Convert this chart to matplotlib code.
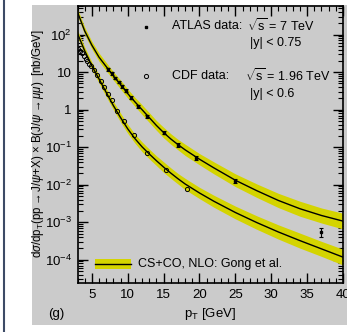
import matplotlib
matplotlib.use("Agg")
import matplotlib.pyplot as plt
from matplotlib.patches import Rectangle
from matplotlib.lines import Line2D
from matplotlib.ticker import LogLocator, MultipleLocator, FixedLocator, FixedFormatter
import numpy as np

plt.rcParams['font.family'] = ['Liberation Sans', 'DejaVu Sans']
plt.rcParams['mathtext.fontset'] = 'custom'
plt.rcParams['mathtext.rm'] = 'Liberation Sans'
plt.rcParams['mathtext.it'] = 'Liberation Sans:italic'

# NLO CS+CO prediction, central values (log10 of nb/GeV) and band half-width
pt_nodes = [3, 4, 5, 6, 7, 8, 9, 10, 11, 12, 13, 14, 15, 16, 17, 18,
            20, 22, 25, 28, 31, 34, 37, 40]
atlas_theory_log = [2.60, 2.10, 1.72, 1.40, 1.15, 0.90, 0.67, 0.43, 0.21, 0.00,
                    -0.21, -0.42, -0.61, -0.78, -0.93, -1.07, -1.32, -1.55,
                    -1.88, -2.16, -2.42, -2.64, -2.82, -2.97]
cdf_theory_log = [2.03, 1.57, 1.17, 0.82, 0.46, 0.11, -0.21, -0.51, -0.77, -0.99,
                  -1.18, -1.36, -1.53, -1.69, -1.84, -1.98, -2.22, -2.44,
                  -2.74, -3.01, -3.26, -3.49, -3.71, -3.93]
band_halfwidth = [0.09, 0.10, 0.10, 0.11, 0.11, 0.11, 0.12, 0.12, 0.12, 0.13,
                  0.13, 0.13, 0.14, 0.14, 0.14, 0.15, 0.15, 0.16, 0.17, 0.18,
                  0.19, 0.20, 0.20, 0.21]

# ATLAS 7 TeV, |y| < 0.75
atlas_pt = [7.25, 7.75, 8.25, 8.75, 9.25, 9.75, 10.5, 11.5, 12.75, 15.0, 17.0,
            19.5, 25.0, 37.0]
atlas_val = [12.0, 9.3, 7.0, 5.5, 4.2, 3.2, 2.1, 1.25, 0.66, 0.245, 0.117,
             0.052, 0.0126, 5.6e-4]
atlas_err = [1.0, 0.8, 0.6, 0.45, 0.35, 0.28, 0.18, 0.11, 0.06, 0.025, 0.013,
             0.006, 0.0018, 1.6e-4]

# CDF 1.96 TeV, |y| < 0.6
cdf_pt = [3.125, 3.375, 3.625, 3.875, 4.125, 4.375, 4.625, 4.875, 5.25, 5.75,
          6.25, 6.75, 7.25, 7.75, 8.5, 9.5, 10.9, 12.75, 15.3, 18.2]
cdf_val = [41.7, 37.2, 31.6, 26.9, 22.9, 20.0, 17.0, 14.5, 11.5, 8.3, 5.75,
           3.98, 2.69, 1.86, 0.91, 0.49, 0.214, 0.071, 0.025, 0.0078]

fig = plt.figure(figsize=(3.47, 3.32), dpi=100)
fig.patch.set_facecolor('white')

# grey pad and left frame line
fig.patches.append(Rectangle((32 / 347, 7 / 332), 315 / 347, 320 / 332,
                             transform=fig.transFigure, facecolor='#cbcbcb',
                             edgecolor='none', zorder=-5))
fig.lines.append(Line2D([3.5 / 347, 3.5 / 347], [0, 1], transform=fig.transFigure,
                        color='#3d4b66', lw=1.5))

ax = fig.add_axes([77.5 / 347, 49 / 332, 265.5 / 347, 277.5 / 332])
ax.set_facecolor('#cbcbcb')
ax.set_yscale('log')
ax.set_xlim(3, 40)
ax.set_ylim(2.4e-5, 600)

pt = np.array(pt_nodes)
for logs in (atlas_theory_log, cdf_theory_log):
    c = np.array(logs)
    hw = np.array(band_halfwidth)
    ax.fill_between(pt, 10 ** (c - hw), 10 ** (c + hw), color='#d4d400', lw=0, zorder=2)
    ax.plot(pt, 10 ** c, color='black', lw=1.0, zorder=3)

ax.errorbar(atlas_pt, atlas_val, yerr=atlas_err, fmt='s', ms=2, color='black',
            elinewidth=0.8, capsize=1.2, capthick=0.8, zorder=4)
ax.plot(cdf_pt, cdf_val, 'o', ms=3, mfc='none', mec='black', mew=0.7, zorder=4)

# ticks inside on all four sides
ax.xaxis.set_major_locator(MultipleLocator(5))
ax.xaxis.set_minor_locator(MultipleLocator(1))
ax.yaxis.set_minor_locator(LogLocator(base=10, subs=np.arange(2, 10), numticks=20))
dec = [1e-4, 1e-3, 1e-2, 1e-1, 1, 10, 100]
ax.yaxis.set_major_locator(FixedLocator(dec))
ax.yaxis.set_major_formatter(FixedFormatter(
    ['$10^{-4}$', '$10^{-3}$', '$10^{-2}$', '$10^{-1}$', '1', '10', '$10^{2}$']))
ax.yaxis.set_minor_formatter(FixedFormatter([]))
ax.tick_params(which='both', direction='in', top=True, right=True, color='black')
ax.tick_params(which='major', length=7, width=1, labelsize=9.5, pad=4)
ax.tick_params(which='minor', length=3.5, width=0.8)
for s in ax.spines.values():
    s.set_linewidth(1.2)

ax.set_xlabel('p$_{\\mathrm{T}}$ [GeV]', fontsize=9.5, labelpad=4)
fig.text(38 / 347, 1 - 144 / 332,
         'd$\\sigma$/dp$_{\\mathrm{T}}$(pp$\\rightarrow$J/$\\psi$+X) $\\times$ '
         'B(J/$\\psi\\rightarrow\\mu\\mu$)  [nb/GeV]',
         rotation=90, ha='center', va='center', fontsize=8.3)
fig.text(56 / 347, 1 - 314 / 332, '(g)', ha='center', va='center', fontsize=9.5)

# data legend
fig.lines.append(Line2D([146 / 347], [1 - 27 / 332], marker='s', ms=2, color='black',
                        ls='none', transform=fig.transFigure))
fig.lines.append(Line2D([146 / 347], [1 - 76 / 332], marker='o', ms=3, mfc='none',
                        mec='black', mew=0.7, ls='none', transform=fig.transFigure))
fs = 9
fig.text(172 / 347, 1 - 26 / 332, 'ATLAS data:', fontsize=fs, va='center')
fig.text(247 / 347, 1 - 26 / 332, '$\\sqrt{\\mathrm{s}}$ = 7 TeV', fontsize=fs, va='center')
fig.text(250 / 347, 1 - 43 / 332, '|y| < 0.75', fontsize=fs, va='center')
fig.text(172 / 347, 1 - 76 / 332, 'CDF data:', fontsize=fs, va='center')
fig.text(245 / 347, 1 - 76 / 332, '$\\sqrt{\\mathrm{s}}$ = 1.96 TeV', fontsize=fs, va='center')
fig.text(250 / 347, 1 - 94 / 332, '|y| < 0.6', fontsize=fs, va='center')

# theory legend
fig.patches.append(Rectangle((95 / 347, 1 - 269 / 332), 36 / 347, 10 / 332,
                             transform=fig.transFigure, facecolor='#d4d400',
                             edgecolor='none', zorder=3))
fig.lines.append(Line2D([95 / 347, 131 / 347], [1 - 264 / 332, 1 - 264 / 332],
                        transform=fig.transFigure, color='black', lw=1.0, zorder=4))
fig.text(138 / 347, 1 - 264 / 332, 'CS+CO, NLO: Gong et al.', fontsize=fs, va='center')

fig.savefig('out.png', dpi=100)
